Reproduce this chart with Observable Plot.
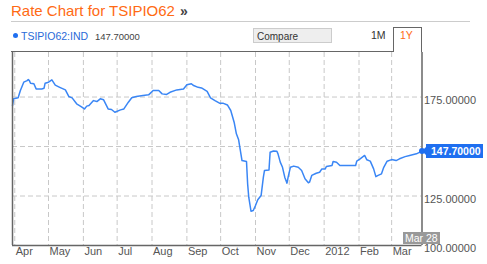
<!DOCTYPE html>
<html><head><meta charset="utf-8">
<script src="https://cdn.jsdelivr.net/npm/d3@7"></script>
<script src="https://cdn.jsdelivr.net/npm/@observablehq/plot@0.6"></script>
<style>
body{margin:0;background:#fff;font-family:"Liberation Sans",Arial,sans-serif;}
#wrap{position:relative;width:487px;height:264px;overflow:hidden;}
#wrap svg{position:absolute;left:0;top:0;}
.abs{position:absolute;white-space:nowrap;line-height:1;}
</style></head><body><div id="wrap"></div>
<script>
const dates = ["2011-03-30","2011-03-31","2011-04-04","2011-04-06","2011-04-09","2011-04-12","2011-04-13","2011-04-14","2011-04-15","2011-04-18","2011-04-20","2011-04-25","2011-04-27","2011-04-28","2011-05-01","2011-05-04","2011-05-07","2011-05-11","2011-05-16","2011-05-19","2011-05-22","2011-05-26","2011-05-30","2011-06-02","2011-06-04","2011-06-06","2011-06-10","2011-06-13","2011-06-16","2011-06-19","2011-06-23","2011-06-26","2011-06-29","2011-07-04","2011-07-07","2011-07-11","2011-07-14","2011-07-18","2011-07-24","2011-07-29","2011-08-02","2011-08-07","2011-08-10","2011-08-14","2011-08-17","2011-08-23","2011-08-29","2011-09-01","2011-09-05","2011-09-07","2011-09-11","2011-09-14","2011-09-19","2011-09-22","2011-09-26","2011-09-30","2011-10-03","2011-10-07","2011-10-10","2011-10-13","2011-10-15","2011-10-17","2011-10-20","2011-10-24","2011-10-25","2011-10-26","2011-10-28","2011-10-30","2011-11-01","2011-11-03","2011-11-06","2011-11-08","2011-11-09","2011-11-13","2011-11-14","2011-11-17","2011-11-20","2011-11-21","2011-11-23","2011-11-25","2011-11-27","2011-11-29","2011-11-30","2011-12-02","2011-12-05","2011-12-09","2011-12-12","2011-12-15","2011-12-18","2011-12-19","2011-12-21","2011-12-25","2011-12-28","2011-12-30","2012-01-02","2012-01-03","2012-01-08","2012-01-09","2012-01-12","2012-01-15","2012-01-29","2012-01-30","2012-02-02","2012-02-06","2012-02-08","2012-02-11","2012-02-14","2012-02-16","2012-02-18","2012-02-21","2012-02-23","2012-02-26","2012-03-01","2012-03-05","2012-03-08","2012-03-13","2012-03-17","2012-03-23","2012-03-28"];
const values = [170.7,174.1,174.6,178.3,182.5,183.3,183.8,183.3,182.0,181.7,179.1,179.1,179.4,182.0,182.5,183.7,181.0,179.9,178.6,175.3,174.6,171.6,170.2,169.0,170.4,170.7,173.2,172.7,174.1,173.6,169.0,168.7,167.3,168.5,169.0,172.4,174.6,175.3,175.8,176.1,178.3,178.3,176.6,176.3,177.4,178.6,179.1,181.2,181.7,180.8,179.9,179.6,177.9,174.6,173.2,171.9,171.9,171.0,168.2,162.3,156.4,153.4,142.9,142.4,131.2,124.4,117.3,117.7,120.2,123.1,125.3,134.5,137.9,138.2,147.1,147.7,147.6,146.3,142.1,139.5,134.5,131.5,134.5,139.5,140.1,139.5,137.9,133.7,131.7,132.0,135.4,136.5,137.0,138.7,138.7,139.9,140.4,142.4,142.1,140.4,140.4,142.6,143.8,145.5,143.3,142.6,138.7,134.8,135.4,136.2,139.5,142.6,143.4,142.9,143.8,144.9,145.5,146.3,147.7];
const monthTicks = ["2011-04-01","2011-05-01","2011-06-01","2011-07-01","2011-08-01","2011-09-01","2011-10-01","2011-11-01","2011-12-01","2012-01-01","2012-02-01","2012-03-01"];
const monthLabels = ["Apr","May","Jun","Jul","Aug","Sep","Oct","Nov","Dec","2012","Feb","Mar"];
const yGrid = [125,150,175];
const yLabels = [100,125,175];
const xDomain = ["2011-03-30","2012-03-28"];
const yDomain = [100,197.5];
const lastDateLabel = "Mar 28";

const data = dates.map((d,i)=>({date:new Date(d), value:values[i]}));
const ticks = monthTicks.map((d,i)=>({date:new Date(d), label:monthLabels[i]}));
const last = data[data.length-1];
const frameColor = "#666";
const grid = {stroke:"#c8c8c8", strokeWidth:1, strokeDasharray:"5,3"};

const chart = Plot.plot({
  width:487, height:264,
  marginLeft:12, marginRight:65.5, marginTop:52, marginBottom:19,
  style:{fontFamily:"'Liberation Sans', Arial, sans-serif", fontSize:"11px", background:"transparent"},
  x:{type:"utc", domain:xDomain.map(d=>new Date(d)), axis:null},
  y:{domain:yDomain, axis:null},
  marks:[
    Plot.ruleX(ticks, {x:"date", ...grid}),
    Plot.ruleY(yGrid, {...grid}),
    Plot.line(data, {x:"date", y:"value", stroke:"#3a86f5", strokeWidth:1.5}),
    Plot.ruleX([new Date(xDomain[0]), new Date(xDomain[1])], {stroke:frameColor, strokeWidth:1.5}),
    Plot.ruleY([yDomain[0]], {stroke:frameColor, strokeWidth:1.5}),
    Plot.dot([last], {x:"date", y:"value", r:3, fill:"#1f6ff0"}),
    Plot.text(ticks, {x:"date", text:"label", frameAnchor:"bottom", textAnchor:"start", dx:1, dy:9, fill:"#555"}),
    Plot.text(yLabels, {y:d=>d, text:d=>d3.format(".5f")(d), frameAnchor:"right", textAnchor:"start", dx:2, dy:3, fill:"#555"})
  ]
});
const wrap = document.getElementById("wrap");
wrap.appendChild(chart);

const xs = chart.scale("x"), ys = chart.scale("y");
const xR = xs.apply(new Date(xDomain[1])), xL = xs.apply(new Date(xDomain[0]));
const yT = ys.apply(yDomain[1]);
function add(html, css){const e=document.createElement("div");e.className="abs";e.innerHTML=html;Object.assign(e.style,css);wrap.appendChild(e);return e;}

// header
add("Rate Chart for TSIPIO62",{left:"11px",top:"3px",fontSize:"15px",color:"#ff6a13"});
add("&raquo;",{left:"180px",top:"4px",fontSize:"14px",fontWeight:"bold",color:"#444"});
add("",{left:"11px",top:"21px",width:"459px",height:"0",borderTop:"1px solid #ccc"});
add("",{left:"13px",top:"32.5px",width:"5px",height:"5px",borderRadius:"50%",background:"#1f6ff0"});
add("TSIPIO62:IND",{left:"21px",top:"30.5px",fontSize:"10.5px",color:"#2a6ad8"});
add("147.70000",{left:"95px",top:"31.5px",fontSize:"9.5px",color:"#444"});
add("Compare",{left:"253px",top:"28px",width:"79px",height:"15px",boxSizing:"border-box",background:"#eee",border:"1px solid #ccc",fontSize:"10px",color:"#333",padding:"3px 0 0 3px"});
add("1M",{left:"371px",top:"30px",fontSize:"10.5px",color:"#333"});
add("1Y",{left:"400px",top:"30px",fontSize:"10.5px",color:"#ff6a13"});
// tab + top frame
add("",{left:"392.5px",top:"27px",width:(xR+0.75-392.5)+"px",height:(yT-27)+"px",boxSizing:"border-box",borderTop:"1.5px solid "+frameColor,borderLeft:"1.5px solid "+frameColor,borderRight:"1.5px solid "+frameColor});
add("",{left:(xL-0.75)+"px",top:(yT-0.75)+"px",width:(392.5-xL+1.5)+"px",height:"0",borderTop:"1.5px solid "+frameColor});

// last value label
const yl = ys.apply(last.value);
add("",{left:(xR)+"px",top:(yl-5)+"px",width:"0",height:"0",borderTop:"5px solid transparent",borderBottom:"5px solid transparent",borderRight:"5px solid #1f6ff0"});
add("147.70000",{left:(xR+4.5)+"px",top:(yl-7)+"px",width:"57px",height:"14px",boxSizing:"border-box",background:"#1f6ff0",color:"#fff",fontWeight:"bold",fontSize:"10.5px",padding:"2px 0 0 5px"});
// last date label
const dl = add(lastDateLabel,{left:"0px",top:"232px",height:"12px",boxSizing:"border-box",background:"#999",color:"#fff",fontSize:"10.5px",padding:"1px 2px 0 2px"});
dl.style.left = (xR - dl.offsetWidth/2) + "px";
</script></body></html>
